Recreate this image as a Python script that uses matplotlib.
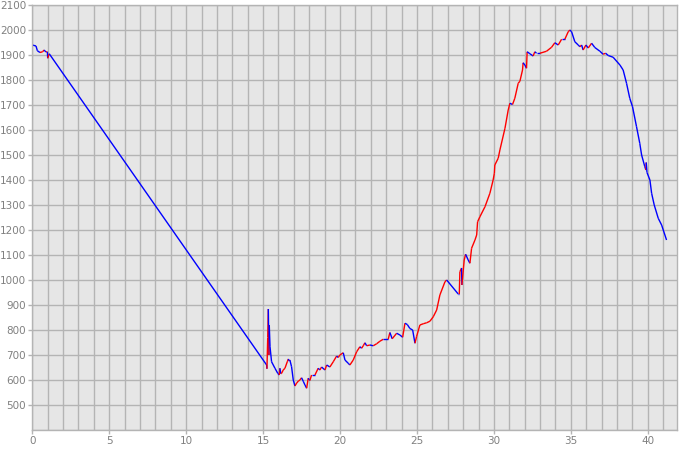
import numpy as np
import matplotlib
matplotlib.use("Agg")
import matplotlib.pyplot as plt
from matplotlib.collections import LineCollection

# distance (km) and elevation (m)
distance = [0.0, 0.24, 0.33, 0.5, 0.67, 0.76, 0.89, 0.98, 1.0, 1.1,
            15.23, 15.25, 15.30, 15.34, 15.38, 15.40, 15.45, 15.55, 15.77, 15.95,
            16.05, 16.09, 16.15, 16.2, 16.31, 16.42, 16.57, 16.64, 16.7, 16.74,
            16.85, 16.96, 17.07, 17.18, 17.3, 17.39, 17.5, 17.61, 17.72, 17.83,
            17.93, 18.04, 18.15, 18.37, 18.58, 18.69, 18.8, 19.02, 19.13, 19.34,
            19.56, 19.78, 19.88, 19.99, 20.21, 20.32, 20.53, 20.64, 20.86, 21.08,
            21.29, 21.4, 21.51, 21.62, 21.73, 21.94, 22.16, 22.38, 22.59, 22.81,
            23.13, 23.24, 23.39, 23.68, 23.89, 24.07, 24.22, 24.37, 24.54, 24.72,
            24.87, 24.98, 25.19, 25.41, 25.63, 25.84, 26.06, 26.28, 26.49, 26.82,
            26.93, 27.68, 27.75, 27.79, 27.9, 27.92, 28.01, 28.07, 28.16, 28.33,
            28.44, 28.55, 28.77, 28.88, 28.94, 29.09, 29.42, 29.74, 29.95, 30.03,
            30.06, 30.28, 30.39, 30.72, 30.93, 31.04, 31.21, 31.36, 31.58, 31.69,
            31.86, 31.9, 32.01, 32.12, 32.16, 32.34, 32.55, 32.66, 32.77, 32.99,
            33.42, 33.75, 33.96, 34.18, 34.4, 34.61, 34.83, 34.94, 35.05, 35.26,
            35.48, 35.59, 35.7, 35.8, 35.98, 36.13, 36.35, 36.56, 36.89, 37.1,
            37.26, 37.43, 37.75, 38.19, 38.4, 38.62, 38.83, 39.01, 39.27, 39.48,
            39.6, 39.81, 39.88, 39.9, 39.95, 40.14, 40.25, 40.42, 40.68, 40.9,
            41.22]
elevation = [1940, 1936, 1917, 1910, 1913, 1920, 1912, 1913, 1887, 1905,
             660, 645, 770, 884, 700, 820, 733, 673, 647, 627,
             620, 647, 625, 627, 640, 647, 673, 684, 676, 680,
             653, 600, 576, 588, 596, 600, 609, 595, 580, 567,
             607, 598, 620, 620, 647, 640, 652, 640, 660, 652,
             673, 696, 690, 700, 709, 680, 667, 660, 680, 713,
             733, 727, 737, 749, 737, 740, 737, 745, 755, 763,
             763, 790, 765, 787, 780, 771, 827, 822, 806, 800,
             747, 775, 820, 825, 829, 835, 853, 880, 940, 993,
             1000, 944, 944, 1033, 1048, 980, 1040, 1080, 1103, 1080,
             1067, 1127, 1160, 1180, 1233, 1253, 1293, 1347, 1400, 1427,
             1460, 1487, 1520, 1607, 1680, 1707, 1702, 1727, 1787, 1795,
             1840, 1869, 1860, 1847, 1913, 1905, 1896, 1913, 1907, 1907,
             1915, 1931, 1949, 1940, 1963, 1963, 1993, 2000, 1993, 1953,
             1940, 1933, 1940, 1920, 1940, 1928, 1947, 1930, 1915, 1903,
             1907, 1898, 1891, 1860, 1840, 1787, 1727, 1693, 1613, 1547,
             1500, 1453, 1440, 1470, 1430, 1400, 1347, 1300, 1247, 1220,
             1160]

x_ticks = [0, 5, 10, 15, 20, 25, 30, 35, 40]
y_ticks = [500, 600, 700, 800, 900, 1000, 1100, 1200, 1300, 1400, 1500,
           1600, 1700, 1800, 1900, 2000, 2100]

grid_c = "#b4b4b4"
text_c = "#808080"

fig = plt.figure(figsize=(6.8, 4.5), dpi=100)
ax = fig.add_axes([32.3 / 680, 20 / 450, (677 - 32.3) / 680, 425 / 450])
ax.set_facecolor("#e6e6e6")

x = np.array(distance)
y = np.array(elevation)
pts = np.column_stack([x, y]).reshape(-1, 1, 2)
segs = np.concatenate([pts[:-1], pts[1:]], axis=1)
cols = ["#ff0000" if d > 0 else "#0000ff" for d in np.diff(y)]
lc = LineCollection(segs, colors=cols, linewidths=1.0, capstyle="butt")
ax.add_collection(lc)

ax.set_xlim(0, 41.9)
ax.set_ylim(400, 2100)
ax.set_xticks(x_ticks)
ax.set_xticks(np.arange(0, 42, 1), minor=True)
ax.set_yticks(y_ticks)
ax.set_yticks(np.arange(400, 2101, 100), minor=True)
ax.grid(True, which="both", axis="both", color=grid_c, linewidth=1.0)
ax.set_axisbelow(True)

for s in ax.spines.values():
    s.set_color(grid_c)
    s.set_linewidth(1.0)

ax.tick_params(axis="both", which="major", colors=grid_c, labelcolor=text_c,
               labelsize=7.5, length=3, width=1.0, direction="out", pad=1.5)
ax.tick_params(axis="both", which="minor", length=0)

fig.savefig("out.png", dpi=100)
